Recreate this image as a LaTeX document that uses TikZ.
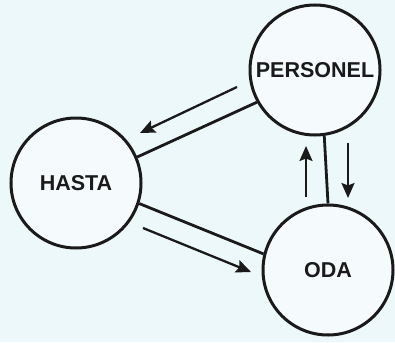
\documentclass[tikz,border=0pt]{standalone}
\usepackage{fontspec}
\setmainfont{Liberation Sans}
\usetikzlibrary{arrows.meta}
\definecolor{bgc}{HTML}{EDF8FB}
\definecolor{fillc}{HTML}{F5FBFD}
\definecolor{ink}{HTML}{1A1A1A}
\tikzset{
  state/.style={circle, draw=ink, line width=3pt, fill=fillc, minimum size=130pt, inner sep=0pt, font=\fontsize{21.5}{21.5}\selectfont\bfseries, text=ink},
  link/.style={draw=ink, line width=2.8pt},
  flow/.style={draw=ink, line width=2.3pt, -{Stealth[length=15pt,width=13pt,inset=2.5pt]}}
}
\begin{document}
\begin{tikzpicture}[x=1pt,y=-1pt]
\fill[bgc] (0,0) rectangle (395,342);
\useasboundingbox (0,0) rectangle (395,342);
\node[state] (P) at (315,70) {PERSONEL};
\node[state] (H) at (76,183) {HASTA};
\node[state] (O) at (328,270) {ODA};
% connecting bars
\draw[link] (H.23) -- (P.209);
\draw[link] (H.-18) -- (O.166);
\draw[link] (P.-82) -- (O.90);
% flow arrows
\coordinate (a1s) at (237,87);  \coordinate (a1e) at (140,133);
\coordinate (a2s) at (143,228); \coordinate (a2e) at (251,272);
\coordinate (a3s) at (306,197); \coordinate (a3e) at (306,146);
\coordinate (a4s) at (348,143); \coordinate (a4e) at (348,198);
\draw[flow] (a1s) -- (a1e);
\draw[flow] (a2s) -- (a2e);
\draw[flow] (a3s) -- (a3e);
\draw[flow] (a4s) -- (a4e);
\end{tikzpicture}
\end{document}
